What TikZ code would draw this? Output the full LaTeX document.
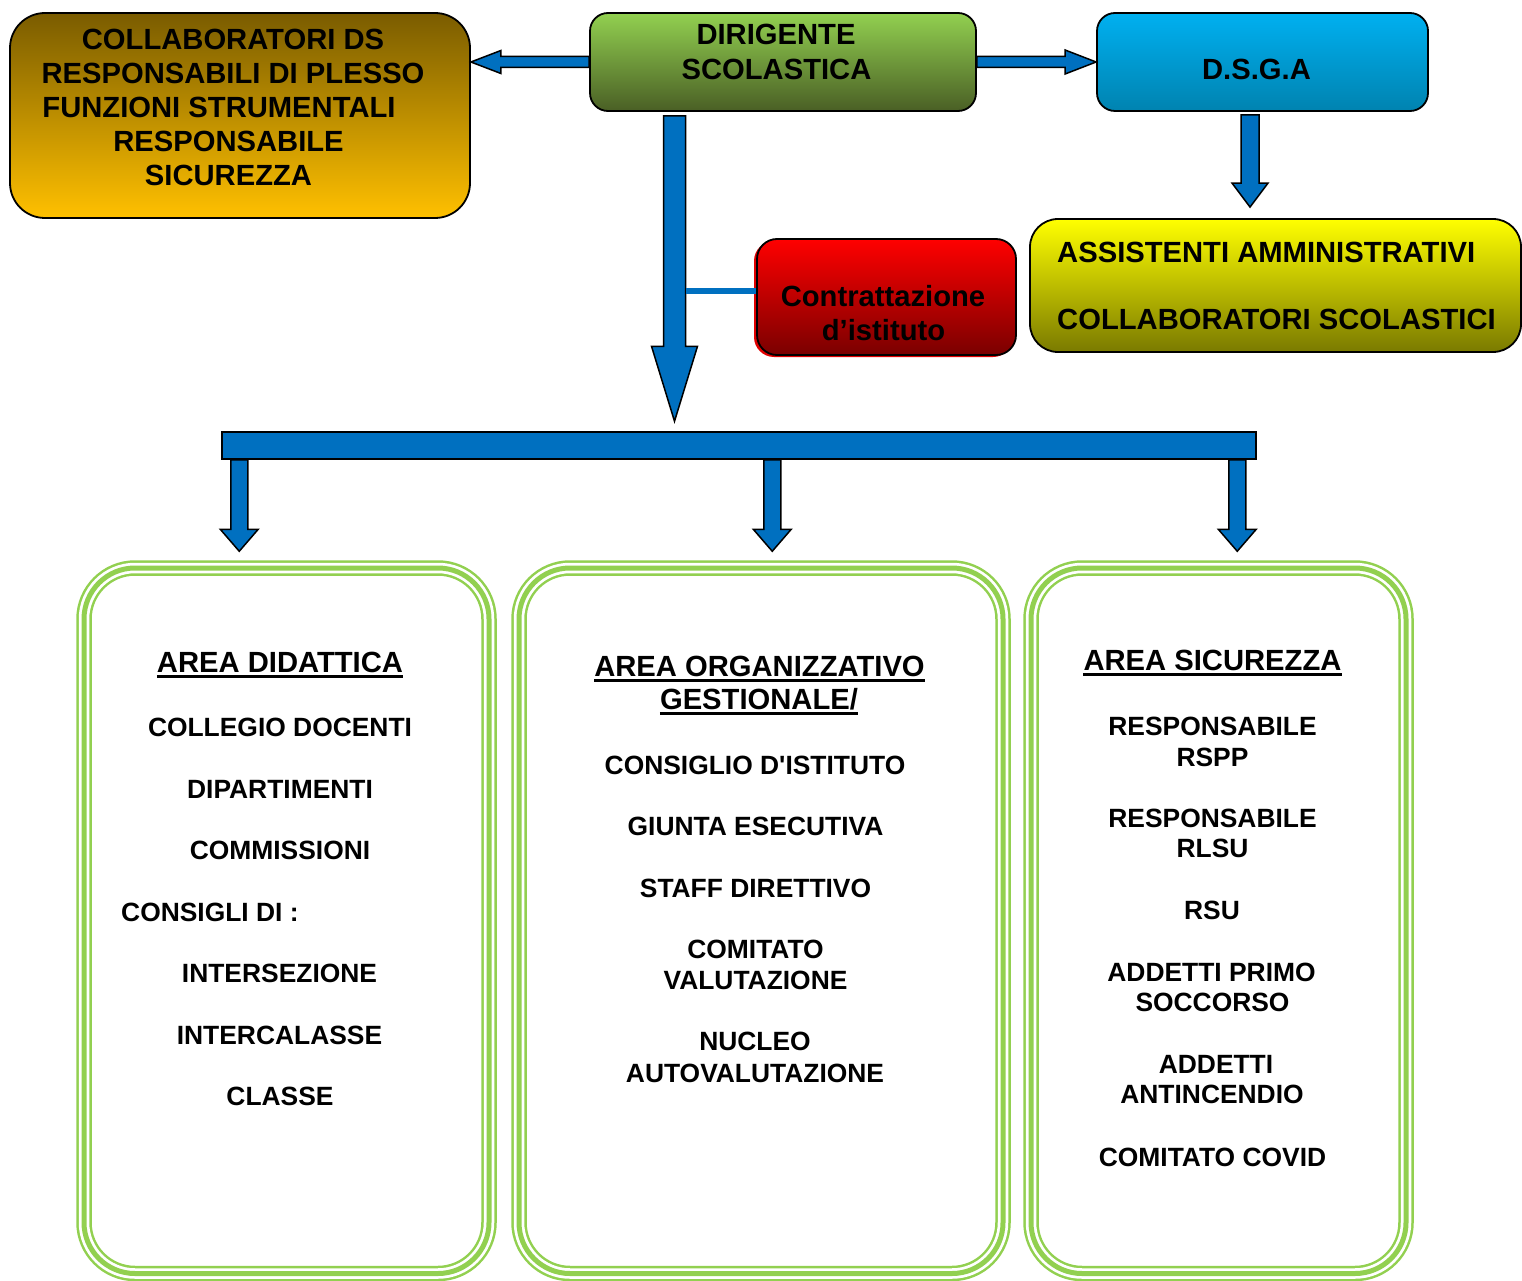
\documentclass[tikz,border=0pt]{standalone}
\usepackage{fontspec}
\setmainfont{Liberation Sans}
\usetikzlibrary{calc}
\definecolor{arrowblue}{HTML}{0070C0}
\definecolor{lgreen}{HTML}{92D050}
\definecolor{collTop}{HTML}{7A5C00}
\definecolor{collBot}{HTML}{FFC000}
\definecolor{dirTop}{HTML}{92D050}
\definecolor{dirBot}{HTML}{4A5F25}
\definecolor{dsgaTop}{HTML}{00B0F0}
\definecolor{dsgaBot}{HTML}{0083B0}
\definecolor{asTop}{HTML}{FFFF00}
\definecolor{asBot}{HTML}{7A7A00}
\definecolor{ctTop}{HTML}{FF0000}
\definecolor{ctBot}{HTML}{7A0000}
\tikzset{
  topbox/.style={draw=black, line width=1.8, inner sep=0},
  barrow/.style={fill=arrowblue, draw=black, line width=1.5, line join=miter},
  area/.style={draw=lgreen, line width=15.5, rounded corners=51, inner sep=0,
    postaction={draw=white, line width=10.5}, postaction={draw=lgreen, line width=5}},
  big/.style={font=\fontsize{29.2}{34}\selectfont\bfseries, inner sep=0, anchor=base},
  body/.style={font=\fontsize{26.4}{31}\selectfont\bfseries, inner sep=0, anchor=base},
  uline/.style={line width=3, black},
}
\begin{document}
\begin{tikzpicture}[x=1pt, y=-1pt]
\useasboundingbox (0,0) rectangle (1522,1281);

% ---------- top boxes ----------
\node[topbox, rounded corners=35, minimum width=460, minimum height=205,
      top color=collTop, bottom color=collBot] (coll) at (240,115.5) {};
\node[topbox, rounded corners=18, minimum width=386, minimum height=98,
      top color=dirTop, bottom color=dirBot] (dir) at (783,62) {};
\node[topbox, rounded corners=18, minimum width=331, minimum height=98,
      top color=dsgaTop, bottom color=dsgaBot] (dsga) at (1262.5,62) {};
\node[topbox, rounded corners=28, minimum width=491, minimum height=133,
      top color=asTop, bottom color=asBot] (asst) at (1275.5,285.5) {};
\node[topbox, rounded corners=20, minimum width=259, minimum height=116,
      top color=ctTop, bottom color=ctBot,
      preaction={fill=red!88!black, draw=none, transform canvas={shift={(-3pt,-2pt)}}}] (contr) at (886.5,297) {};

% ---------- top texts ----------
\node[big] (c1) at (233,49.5) {COLLABORATORI DS};
\node[big] (c2) at (233,83.5) {RESPONSABILI DI PLESSO};
\node[big] (c3) at (219,117.5) {FUNZIONI STRUMENTALI};
\node[big] (c4) at (228.5,151.5) {RESPONSABILE};
\node[big] (c5) at (228.5,185.5) {SICUREZZA};
\node[big] (d1t) at (776,44.5) {DIRIGENTE};
\node[big] (d2t) at (776.5,79.5) {SCOLASTICA};
\node[big] (dsgat) at (1256.5,79.5) {D.S.G.A};
\node[big, anchor=base west] (as1) at (1057,262.5) {ASSISTENTI AMMINISTRATIVI};
\node[big, anchor=base west] (as2) at (1057,329.5) {COLLABORATORI SCOLASTICI};
\node[big] (ct1) at (883,306) {Contrattazione};
\node[big] (ct2) at (883.5,340) {d’istituto};

% ---------- arrows from the dirigente ----------
\coordinate (tl) at (coll.east |- dir.west);
\draw[barrow] (tl) -- ($(tl)+(30,-11.5)$) -- ($(tl)+(30,-5.5)$) -- ($(dir.west)+(0,-5.5)$)
  -- ($(dir.west)+(0,5.5)$) -- ($(tl)+(30,5.5)$) -- ($(tl)+(30,11.5)$) -- cycle;
\coordinate (tr) at (dsga.west |- dir.east);
\draw[barrow] ($(dir.east)+(0,-5.5)$) -- ($(tr)+(-31,-5.5)$) -- ($(tr)+(-31,-12)$) -- (tr)
  -- ($(tr)+(-31,12)$) -- ($(tr)+(-31,5.5)$) -- ($(dir.east)+(0,5.5)$) -- cycle;

% dsga -> assistenti
\coordinate (ds1) at ($(dsga.south)+(-12.5,3)$);
\coordinate (ds2) at ($(ds1 |- asst.north)+(0,-11)$);
\draw[barrow] ($(ds1)+(-9,0)$) -- ($(ds2)+(-9,-24)$) -- ($(ds2)+(-18,-24)$) -- (ds2)
  -- ($(ds2)+(18,-24)$) -- ($(ds2)+(9,-24)$) -- ($(ds1)+(9,0)$) -- cycle;

% ---------- horizontal bar ----------
\node[fill=arrowblue, draw=black, line width=1.5, inner sep=0,
      minimum width=1034, minimum height=27] (bar) at (739,445.5) {};

% main arrow
\coordinate (m1) at ($(dir.south)+(-108.5,4)$);
\coordinate (m2) at ($(m1 |- bar.north)+(0,-10)$);
\draw[barrow] ($(m1)+(-11,0)$) -- ($(m2)+(-11,-75)$) -- ($(m2)+(-23,-75)$) -- (m2)
  -- ($(m2)+(23,-75)$) -- ($(m2)+(11,-75)$) -- ($(m1)+(11,0)$) -- cycle;
\coordinate (mc) at ($(m1)+(11.5,175)$);
\draw[line width=6, arrowblue] (mc) -- (mc -| contr.west);

% ---------- area boxes ----------
\node[area, minimum width=405, minimum height=705.5] (aDid) at (286.5,920.75) {};
\node[area, minimum width=484, minimum height=705.5] (aOrg) at (761,920.75) {};
\node[area, minimum width=375, minimum height=705.5] (aSic) at (1218.5,920.75) {};

% bar arrows
\foreach \nm/\dx/\tgt in {b1/18/aDid, b2/551/aOrg, b3/1016/aSic}{
  \coordinate (\nm s) at ($(bar.south west)+(\dx,0)$);
  \coordinate (\nm e) at ($(\nm s |- \tgt.north)+(0,-9)$);
  \draw[barrow] ($(\nm s)+(-8.5,0)$) -- ($(\nm e)+(-8.5,-22)$) -- ($(\nm e)+(-19,-22)$) -- (\nm e)
    -- ($(\nm e)+(19,-22)$) -- ($(\nm e)+(8.5,-22)$) -- ($(\nm s)+(8.5,0)$) -- cycle;
}

% ---------- area didattica ----------
\node[big] (hDid) at (280,672.5) {AREA DIDATTICA};
\draw[uline] ($(hDid.base west)+(0,4)$) -- ($(hDid.base east)+(0,4)$);
\node[body] (l1) at (280,736.5) {COLLEGIO DOCENTI};
\node[body] (l2) at (280,798.5) {DIPARTIMENTI};
\node[body] (l3) at (280,859.5) {COMMISSIONI};
\node[body, anchor=base west] (l4) at (121,921.5) {CONSIGLI DI :};
\node[body] (l5) at (279.5,982.5) {INTERSEZIONE};
\node[body] (l6) at (279.5,1044.5) {INTERCALASSE};
\node[body] (l7) at (280,1105.5) {CLASSE};

% ---------- area organizzativo ----------
\node[big] (hOrg1) at (759.5,676.5) {AREA ORGANIZZATIVO};
\draw[uline] ($(hOrg1.base west)+(0,4)$) -- ($(hOrg1.base east)+(0,4)$);
\node[big] (hOrg2) at (759,709.5) {GESTIONALE/};
\draw[uline] ($(hOrg2.base west)+(0,4)$) -- ($(hOrg2.base east)+(0,4)$);
\node[body] (o1) at (755,774.5) {CONSIGLIO D\textquotesingle ISTITUTO};
\node[body] (o2) at (755.5,835.5) {GIUNTA ESECUTIVA};
\node[body] (o3) at (755.5,897.5) {STAFF DIRETTIVO};
\node[body] (o4) at (755.5,958.5) {COMITATO};
\node[body] (o5) at (755.5,989.5) {VALUTAZIONE};
\node[body] (o6) at (755,1050.5) {NUCLEO};
\node[body] (o7) at (755,1082.5) {AUTOVALUTAZIONE};

% ---------- area sicurezza ----------
\node[big] (hSic) at (1212.5,670.5) {AREA SICUREZZA};
\draw[uline] ($(hSic.base west)+(0,4)$) -- ($(hSic.base east)+(0,4)$);
\node[body] (s1) at (1212.5,735.5) {RESPONSABILE};
\node[body] (s2) at (1212.5,766.5) {RSPP};
\node[body] (s3) at (1212.5,827.5) {RESPONSABILE};
\node[body] (s4) at (1212.5,857.5) {RLSU};
\node[body] (s5) at (1212,919.5) {RSU};
\node[body] (s6) at (1211.5,981.5) {ADDETTI PRIMO};
\node[body] (s7) at (1212.5,1011.5) {SOCCORSO};
\node[body] (s8) at (1216,1073.5) {ADDETTI};
\node[body] (s9) at (1212,1103.5) {ANTINCENDIO};
\node[body] (s10) at (1212.5,1166.5) {COMITATO COVID};
\end{tikzpicture}
\end{document}
